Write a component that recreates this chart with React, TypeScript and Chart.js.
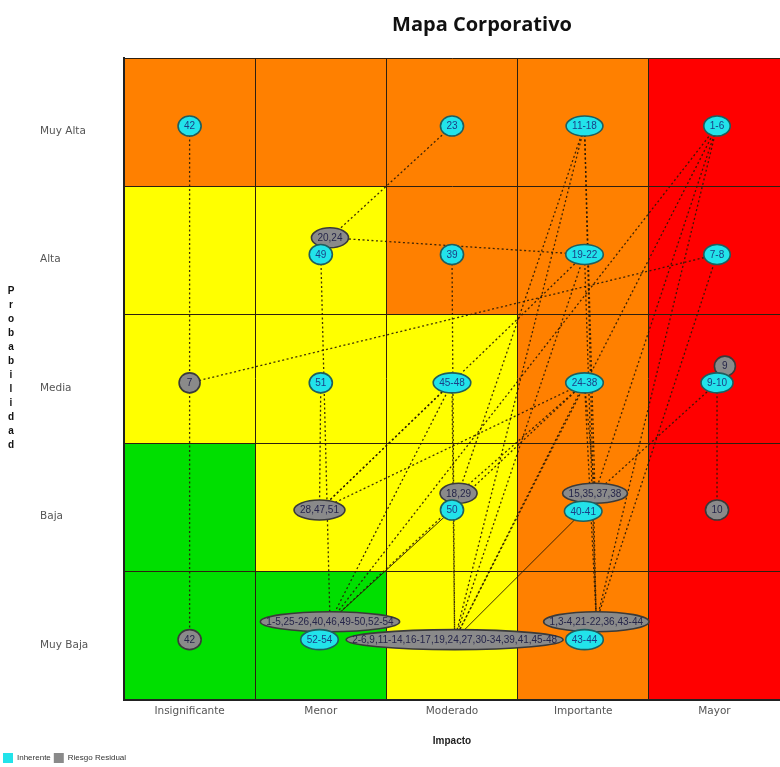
import React, { useEffect, useRef } from 'react';
import { Chart, registerables } from 'chart.js';

Chart.register(...registerables);

// ---------- data ----------
const impactLabels = ['Insignificante', 'Menor', 'Moderado', 'Importante', 'Mayor'];
const probabilityLabels = ['Muy Baja', 'Baja', 'Media', 'Alta', 'Muy Alta'];

// zone per cell, rows from "Muy Baja" (0) to "Muy Alta" (4), columns by impact
const zoneRows = [
  ['G', 'G', 'Y', 'O', 'R'],
  ['G', 'Y', 'Y', 'O', 'R'],
  ['Y', 'Y', 'Y', 'O', 'R'],
  ['Y', 'Y', 'O', 'O', 'R'],
  ['O', 'O', 'O', 'O', 'R'],
];

const inherenteLabels = ['42', '23', '11-18', '1-6', '49', '39', '19-22', '7-8', '51', '45-48', '24-38', '9-10', '50', '40-41', '52-54', '43-44'];
const inherenteX = [0.5, 2.5, 3.51, 4.52, 1.5, 2.5, 3.51, 4.52, 1.5, 2.5, 3.51, 4.52, 2.5, 3.5, 1.49, 3.51];
const inherenteY = [4.47, 4.47, 4.47, 4.47, 3.47, 3.47, 3.47, 3.47, 2.47, 2.47, 2.47, 2.47, 1.48, 1.47, 0.47, 0.47];

const residualLabels = ['7', '42', '20,24', '28,47,51', '18,29', '15,35,37,38', '9', '10', '1-5,25-26,40,46,49-50,52-54', '2-6,9,11-14,16-17,19,24,27,30-34,39,41,45-48', '1,3-4,21-22,36,43-44'];
const residualX = [0.5, 0.5, 1.57, 1.49, 2.55, 3.59, 4.58, 4.52, 1.57, 2.52, 3.6];
const residualY = [2.47, 0.47, 3.6, 1.48, 1.61, 1.61, 2.6, 1.48, 0.61, 0.47, 0.61];

const MENOR = '1-5,25-26,40,46,49-50,52-54';
const MOD = '2-6,9,11-14,16-17,19,24,27,30-34,39,41,45-48';
const IMP = '1,3-4,21-22,36,43-44';

// inherent -> residual movements (dotted)
const dottedLinks: [string, string][] = [
  ['42', '42'],
  ['7-8', '7'],
  ['23', '20,24'],
  ['19-22', '20,24'],
  ['49', MENOR],
  ['51', '28,47,51'],
  ['39', MOD],
  ['45-48', '28,47,51'],
  ['45-48', MENOR],
  ['45-48', MOD],
  ['11-18', '15,35,37,38'],
  ['11-18', '18,29'],
  ['11-18', MOD],
  ['11-18', IMP],
  ['1-6', IMP],
  ['1-6', MENOR],
  ['1-6', MOD],
  ['1-6', '15,35,37,38'],
  ['19-22', IMP],
  ['19-22', MOD],
  ['19-22', '28,47,51'],
  ['24-38', '15,35,37,38'],
  ['24-38', MENOR],
  ['24-38', MOD],
  ['24-38', '28,47,51'],
  ['24-38', IMP],
  ['24-38', '18,29'],
  ['9-10', '9'],
  ['9-10', '10'],
  ['9-10', '15,35,37,38'],
  ['7-8', IMP],
  ['43-44', IMP],
  ['52-54', MENOR],
];
// movements drawn as solid lines
const solidLinks: [string, string][] = [
  ['50', MENOR],
  ['40-41', MOD],
];

// ---------- styles ----------
const zoneColor: Record<string, string> = { G: '#00DF00', Y: '#FFFF00', O: '#FF8000', R: '#FF0000' };
const CYAN = '#22E3EA';
const GRAY = '#8A8A8A';

function linkData(link: [string, string]) {
  const i = inherenteLabels.indexOf(link[0]);
  const j = residualLabels.indexOf(link[1]);
  return [
    { x: inherenteX[i], y: inherenteY[i] },
    { x: residualX[j], y: residualY[j] },
  ];
}

const cellsPlugin = {
  id: 'cells',
  beforeDraw(chart: any) {
    const { ctx, scales } = chart;
    const xs = scales.x;
    const ys = scales.y;
    ctx.save();
    zoneRows.forEach((row, r) => {
      row.forEach((z, c) => {
        const x0 = xs.getPixelForValue(c);
        const x1 = xs.getPixelForValue(c + 1);
        const y0 = ys.getPixelForValue(r + 1);
        const y1 = ys.getPixelForValue(r);
        ctx.fillStyle = zoneColor[z];
        ctx.fillRect(x0, y0, x1 - x0, y1 - y0);
      });
    });
    ctx.restore();
  },
};

const ellipsePlugin = {
  id: 'ellipses',
  afterDatasetsDraw(chart: any) {
    const ctx = chart.ctx;
    const groups = [
      { idx: 1, labels: residualLabels, fill: GRAY, stroke: '#3A3A3A', text: '#26264A' },
      { idx: 0, labels: inherenteLabels, fill: CYAN, stroke: '#1F5E5E', text: '#1B3F86' },
    ];
    ctx.save();
    groups.forEach((g) => {
      const meta = chart.getDatasetMeta(g.idx);
      meta.data.forEach((pt: any, i: number) => {
        const text = g.labels[i];
        ctx.font = '10px "Liberation Sans", Arial, sans-serif';
        const w = ctx.measureText(text).width;
        const rx = Math.max(10.5, w / 2 + 6);
        const ry = 10;
        ctx.beginPath();
        ctx.ellipse(pt.x, pt.y, rx, ry, 0, 0, Math.PI * 2);
        ctx.fillStyle = g.fill;
        ctx.fill();
        ctx.lineWidth = 1.6;
        ctx.strokeStyle = g.stroke;
        ctx.stroke();
        ctx.fillStyle = g.text;
        ctx.textAlign = 'center';
        ctx.textBaseline = 'middle';
        ctx.fillText(text, pt.x, pt.y + 0.5);
      });
    });
    ctx.restore();
  },
};

const decorPlugin = {
  id: 'decor',
  afterDraw(chart: any) {
    const ctx = chart.ctx;
    ctx.save();
    ctx.fillStyle = '#111';
    ctx.textAlign = 'center';
    ctx.textBaseline = 'middle';
    ctx.font = 'bold 20px "Open Sans", sans-serif';
    ctx.fillText('Mapa Corporativo', 482, 25);
    ctx.font = 'bold 10px "Liberation Sans", Arial, sans-serif';
    const word = 'Probabilidad';
    for (let k = 0; k < word.length; k++) {
      ctx.fillText(word[k], 11, 291 + k * 14);
    }
    ctx.restore();
  },
};

export default function App() {
  const ref = useRef<HTMLCanvasElement>(null);
  useEffect(() => {
    document.body.style.margin = '0';
    const gridColor = (c: any) => (Number.isInteger(c.tick?.value) ? '#2E2010' : 'rgba(0,0,0,0)');
    const tickFont = { family: '"DejaVu Sans", sans-serif', size: 10.5 };

    const datasets: any[] = [
      {
        type: 'scatter',
        label: 'Inherente',
        data: inherenteLabels.map((_, i) => ({ x: inherenteX[i], y: inherenteY[i] })),
        backgroundColor: CYAN,
        borderColor: CYAN,
        borderWidth: 0,
        pointRadius: 0,
      },
      {
        type: 'scatter',
        label: 'Riesgo Residual',
        data: residualLabels.map((_, i) => ({ x: residualX[i], y: residualY[i] })),
        backgroundColor: GRAY,
        borderColor: GRAY,
        borderWidth: 0,
        pointRadius: 0,
      },
      ...dottedLinks.map((l) => ({
        type: 'line',
        label: 'mov',
        data: linkData(l),
        borderColor: 'rgba(40,25,5,0.9)',
        borderWidth: 1.3,
        borderDash: [2, 2.5],
        pointRadius: 0,
        fill: false,
      })),
      ...solidLinks.map((l) => ({
        type: 'line',
        label: 'mov',
        data: linkData(l),
        borderColor: 'rgba(40,25,5,0.9)',
        borderWidth: 1,
        pointRadius: 0,
        fill: false,
      })),
    ];

    const chart = new Chart(ref.current as HTMLCanvasElement, {
      type: 'scatter',
      data: { datasets },
      options: {
        animation: false,
        responsive: true,
        maintainAspectRatio: false,
        events: [],
        layout: { padding: { top: 58, right: 0, left: 0, bottom: -6 } },
        plugins: {
          tooltip: { enabled: false },
          title: { display: false },
          legend: {
            position: 'bottom',
            align: 'start',
            labels: {
              boxWidth: 10,
              boxHeight: 10,
              padding: 3,
              color: '#333',
              font: { family: '"Liberation Sans", Arial, sans-serif', size: 8 },
              filter: (item: any) => item.datasetIndex < 2,
            },
          },
        },
        scales: {
          x: {
            type: 'linear',
            position: 'bottom',
            min: 0,
            max: 5,
            ticks: {
              stepSize: 0.5,
              autoSkip: false,
              maxRotation: 0,
              padding: 5,
              color: '#555',
              font: tickFont,
              callback: (v: any) => (Number.isInteger(v) ? '' : impactLabels[Math.floor(v)]),
            },
            grid: { color: gridColor, lineWidth: 1, drawTicks: false },
            border: { display: true, color: '#222', width: 2 },
            title: {
              display: true,
              text: 'Impacto',
              color: '#222',
              font: { family: '"Liberation Sans", Arial, sans-serif', size: 10, weight: 'bold' },
              padding: { top: 4, bottom: 3 },
            },
            afterFit: (s: any) => {
              s.height = 50;
              s.paddingRight = 0;
              s.paddingLeft = 0;
            },
          },
          y: {
            type: 'linear',
            position: 'left',
            weight: 0,
            min: 0,
            max: 5,
            ticks: {
              stepSize: 0.5,
              autoSkip: false,
              crossAlign: 'far',
              labelOffset: 9,
              color: '#555',
              font: tickFont,
              callback: (v: any) => (Number.isInteger(v) ? '' : probabilityLabels[Math.floor(v)]),
            },
            grid: { color: gridColor, lineWidth: 1, drawTicks: false },
            border: { display: true, color: '#222', width: 2 },
            afterFit: (s: any) => {
              s.width = 84;
              s.paddingTop = 0;
              s.paddingBottom = 0;
            },
          },
          yPad: {
            type: 'linear',
            axis: 'y',
            position: 'left',
            weight: 10,
            display: true,
            grid: { display: false },
            ticks: { display: false },
            border: { display: false },
            afterFit: (s: any) => {
              s.width = 40;
              s.paddingTop = 0;
              s.paddingBottom = 0;
            },
          },
        },
      } as any,
      plugins: [cellsPlugin, ellipsePlugin, decorPlugin],
    } as any);
    return () => chart.destroy();
  }, []);

  return (
    <div style={{ position: 'fixed', left: 0, top: 0, width: 780, height: 767 }}>
      <canvas ref={ref} />
    </div>
  );
}
